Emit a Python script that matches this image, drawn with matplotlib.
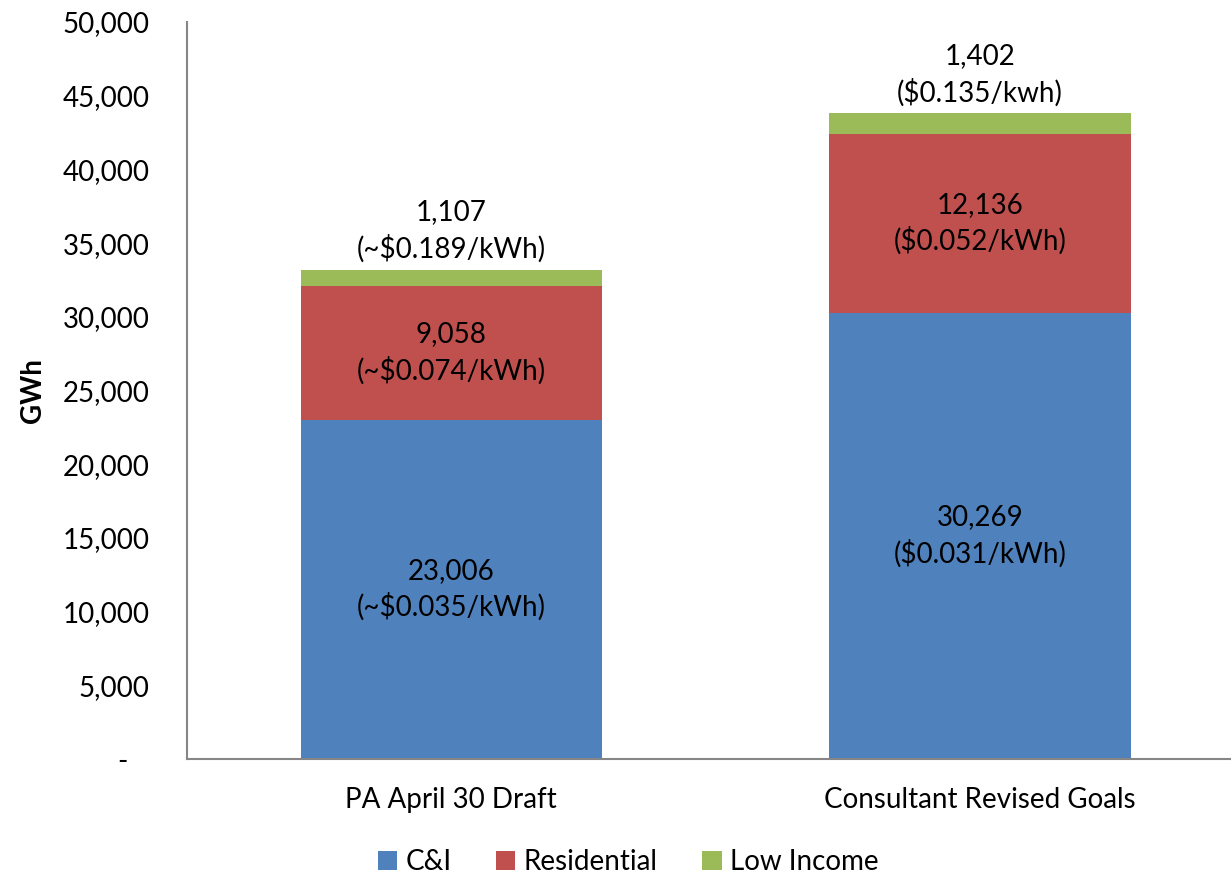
import numpy as np
import matplotlib.pyplot as plt
from matplotlib.ticker import FuncFormatter

plt.rcParams['font.family'] = ['Lato', 'DejaVu Sans']

categories = ["PA April 30 Draft", "Consultant Revised Goals"]
series = ["C&I", "Residential", "Low Income"]
ci = [23006, 30269]
res = [9058, 12136]
low = [1107, 1402]
ci_lbl = ["(~$0.035/kWh)", "($0.031/kWh)"]
res_lbl = ["(~$0.074/kWh)", "($0.052/kWh)"]
low_lbl = ["(~$0.189/kWh)", "($0.135/kwh)"]
colors = ["#4F81BD", "#C0504D", "#9BBB59"]

fig = plt.figure(figsize=(12.31, 8.75), dpi=100)
ax = fig.add_axes([187/1231, 1-759/875, 1-187/1231, (759-22)/875])

x = np.arange(len(categories))
w = 0.57
fs = 20
b1 = ax.bar(x, ci, w, color=colors[0], label=series[0])
b2 = ax.bar(x, res, w, bottom=ci, color=colors[1], label=series[1])
bot3 = np.array(ci) + np.array(res)
b3 = ax.bar(x, low, w, bottom=bot3, color=colors[2], label=series[2])

for i in range(len(x)):
    ax.text(x[i], ci[i]/2, f"{ci[i]:,}\n{ci_lbl[i]}", ha="center", va="center",
            fontsize=fs, linespacing=1.4)
    ax.text(x[i], ci[i] + res[i]/2, f"{res[i]:,}\n{res_lbl[i]}", ha="center",
            va="center", fontsize=fs, linespacing=1.4)
    ax.annotate(f"{low[i]:,}\n{low_lbl[i]}", (x[i], bot3[i] + low[i]),
                xytext=(0, 5), textcoords="offset points", ha="center",
                va="bottom", fontsize=fs, linespacing=1.4)

ax.set_xlim(-0.5, 1.475)
ax.set_ylim(0, 50000)
ax.set_yticks(np.arange(0, 50001, 5000))
ax.yaxis.set_major_formatter(FuncFormatter(lambda v, p: "-   " if v == 0 else f"{int(v):,}"))
ax.set_xticks(x)
ax.set_xticklabels(categories)
ax.tick_params(axis="both", length=0, labelsize=fs)
ax.tick_params(axis="y", pad=27)
ax.tick_params(axis="x", pad=20)
for s in ["top", "right"]:
    ax.spines[s].set_visible(False)
for s in ["left", "bottom"]:
    ax.spines[s].set_color("#868686")
    ax.spines[s].set_linewidth(1.5)
ax.set_ylabel("GWh", fontsize=fs, fontweight="bold", labelpad=12)

fig.legend(handles=[b1, b2, b3], labels=series, loc="center",
           bbox_to_anchor=(628/1231, 1-862/875), ncol=3, frameon=False,
           fontsize=fs, handlelength=0.7, handleheight=0.7, handletextpad=0.3,
           columnspacing=1.6)

fig.savefig("out.png", dpi=100)
